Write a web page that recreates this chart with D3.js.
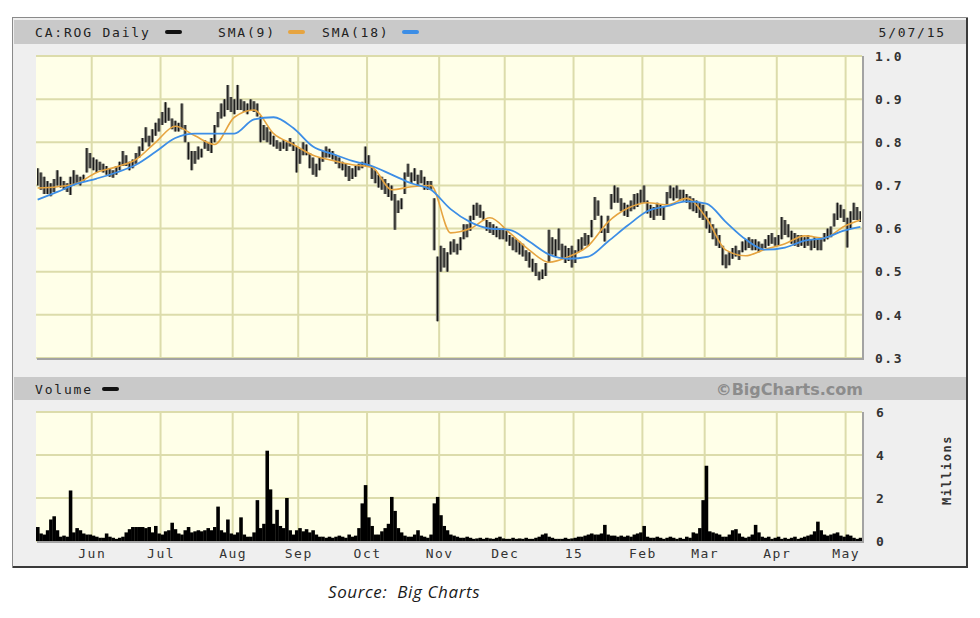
<!DOCTYPE html>
<html><head><meta charset="utf-8">
<script src="https://cdn.jsdelivr.net/npm/d3@7"></script>
<style>
body{margin:0;background:#fff;}
svg{display:block;}
</style></head><body>
<svg id="c" width="980" height="618"></svg>
<script>
// ---- DATA (daily, 7 May 2014 – 7 May 2015, trading-day index) ----
const priceHigh = [
0.74,0.73,0.72,0.71,0.705,0.715,0.735,0.72,0.71,0.705,
0.72,0.735,0.725,0.72,0.725,0.787,0.775,0.765,0.76,0.755,
0.75,0.745,0.74,0.735,0.745,0.755,0.78,0.77,0.755,0.76,
0.775,0.79,0.81,0.835,0.815,0.83,0.845,0.855,0.87,0.893,
0.88,0.855,0.85,0.845,0.89,0.84,0.80,0.78,0.78,0.79,
0.785,0.805,0.80,0.81,0.84,0.87,0.89,0.90,0.933,0.905,
0.90,0.933,0.90,0.895,0.89,0.90,0.895,0.89,0.86,0.84,
0.835,0.825,0.815,0.805,0.80,0.805,0.80,0.81,0.80,0.79,
0.785,0.80,0.795,0.775,0.765,0.75,0.765,0.78,0.79,0.785,
0.78,0.77,0.765,0.755,0.75,0.745,0.74,0.745,0.75,0.755,
0.79,0.77,0.745,0.735,0.725,0.72,0.715,0.705,0.70,0.68,
0.665,0.67,0.73,0.75,0.73,0.74,0.725,0.735,0.72,0.71,
0.71,0.67,0.535,0.56,0.555,0.545,0.57,0.575,0.565,0.58,
0.61,0.61,0.63,0.655,0.66,0.655,0.64,0.62,0.615,0.61,
0.605,0.60,0.60,0.595,0.585,0.58,0.575,0.57,0.565,0.55,
0.545,0.53,0.52,0.50,0.505,0.52,0.597,0.58,0.575,0.60,
0.565,0.56,0.555,0.56,0.55,0.575,0.58,0.59,0.585,0.62,
0.673,0.665,0.63,0.60,0.63,0.68,0.70,0.695,0.67,0.66,
0.655,0.665,0.68,0.682,0.69,0.70,0.665,0.655,0.65,0.66,
0.655,0.65,0.685,0.70,0.695,0.70,0.69,0.69,0.68,0.675,
0.67,0.665,0.66,0.655,0.64,0.625,0.61,0.60,0.585,0.56,
0.54,0.545,0.555,0.56,0.55,0.57,0.575,0.58,0.575,0.575,
0.57,0.565,0.575,0.585,0.59,0.58,0.585,0.627,0.62,0.61,
0.595,0.59,0.585,0.585,0.58,0.585,0.575,0.58,0.575,0.575,
0.59,0.60,0.605,0.635,0.66,0.655,0.645,0.625,0.64,0.66,
0.65,0.64];
const priceLow = [
0.70,0.69,0.68,0.68,0.675,0.685,0.70,0.695,0.69,0.685,
0.678,0.70,0.705,0.70,0.71,0.73,0.74,0.735,0.73,0.735,
0.73,0.725,0.72,0.718,0.725,0.735,0.745,0.745,0.735,0.74,
0.75,0.765,0.78,0.80,0.79,0.80,0.815,0.825,0.84,0.845,
0.85,0.83,0.825,0.825,0.83,0.80,0.76,0.735,0.75,0.76,
0.765,0.785,0.78,0.775,0.80,0.835,0.855,0.86,0.875,0.87,
0.865,0.875,0.875,0.87,0.865,0.875,0.87,0.86,0.80,0.805,
0.80,0.795,0.79,0.785,0.78,0.785,0.78,0.79,0.78,0.73,
0.75,0.77,0.77,0.74,0.725,0.72,0.735,0.755,0.765,0.765,
0.76,0.75,0.74,0.735,0.72,0.71,0.715,0.72,0.735,0.74,
0.745,0.745,0.715,0.705,0.695,0.69,0.68,0.673,0.665,0.597,
0.636,0.645,0.68,0.72,0.705,0.71,0.70,0.705,0.69,0.69,
0.69,0.55,0.385,0.50,0.51,0.50,0.54,0.545,0.54,0.55,
0.575,0.58,0.595,0.62,0.63,0.625,0.62,0.595,0.59,0.585,
0.58,0.575,0.575,0.57,0.56,0.55,0.545,0.54,0.535,0.525,
0.51,0.50,0.49,0.48,0.483,0.49,0.52,0.54,0.535,0.55,
0.53,0.52,0.525,0.51,0.52,0.545,0.55,0.56,0.56,0.58,
0.62,0.63,0.59,0.57,0.59,0.645,0.66,0.66,0.64,0.63,
0.627,0.64,0.645,0.65,0.66,0.66,0.635,0.625,0.62,0.63,
0.63,0.62,0.655,0.67,0.665,0.67,0.665,0.665,0.66,0.645,
0.64,0.636,0.625,0.62,0.60,0.59,0.575,0.56,0.555,0.515,
0.508,0.515,0.53,0.535,0.527,0.545,0.55,0.555,0.55,0.55,
0.545,0.55,0.555,0.56,0.565,0.56,0.56,0.575,0.585,0.58,
0.565,0.56,0.557,0.56,0.555,0.56,0.55,0.555,0.55,0.55,
0.57,0.575,0.58,0.605,0.62,0.625,0.615,0.556,0.60,0.62,
0.62,0.615];
const volumeMillions = [
0.65,0.35,0.3,0.5,1.0,1.15,0.5,0.2,0.25,0.2,
2.35,0.4,0.6,0.5,0.35,0.3,0.3,0.25,0.2,0.15,
0.15,0.35,0.2,0.15,0.1,0.15,0.2,0.4,0.55,0.65,
0.65,0.65,0.65,0.6,0.65,0.4,0.7,0.35,0.3,0.45,
0.5,0.85,0.55,0.35,0.3,0.5,0.65,0.4,0.45,0.5,
0.45,0.5,0.6,0.5,0.65,1.6,0.5,0.4,1.0,0.35,
0.3,0.4,1.1,0.3,0.2,0.2,0.4,1.9,0.6,0.8,
4.2,2.4,0.8,1.45,0.7,0.6,2.0,0.5,0.3,0.5,
0.6,0.45,0.55,0.4,0.5,0.3,0.2,0.2,0.15,0.2,
0.15,0.2,0.25,0.2,0.15,0.3,0.2,0.25,0.6,1.75,
2.6,1.1,0.7,0.3,0.3,0.45,0.6,0.8,2.05,1.4,
0.6,0.4,0.25,0.2,0.2,0.3,0.5,0.25,0.2,0.15,
0.3,1.75,2.05,1.2,0.7,0.5,0.3,0.25,0.2,0.15,
0.15,0.2,0.15,0.1,0.12,0.15,0.1,0.15,0.12,0.1,
0.15,0.2,0.12,0.1,0.1,0.15,0.1,0.12,0.1,0.15,
0.1,0.1,0.15,0.2,0.3,0.35,0.2,0.15,0.1,0.1,
0.1,0.15,0.1,0.12,0.15,0.2,0.2,0.25,0.3,0.35,
0.3,0.3,0.35,0.75,0.3,0.25,0.25,0.2,0.25,0.2,
0.25,0.2,0.3,0.35,0.4,0.7,0.2,0.15,0.15,0.2,
0.15,0.1,0.15,0.2,0.15,0.1,0.15,0.1,0.2,0.15,
0.4,0.35,0.6,1.9,3.5,0.45,0.4,0.35,0.3,0.2,
0.2,0.3,0.5,0.55,0.35,0.2,0.15,0.2,0.3,0.75,
0.4,0.2,0.15,0.2,0.1,0.15,0.2,0.1,0.15,0.1,
0.15,0.2,0.1,0.15,0.2,0.25,0.3,0.45,0.9,0.5,
0.3,0.25,0.3,0.35,0.4,0.25,0.2,0.3,0.25,0.15,
0.1,0.15];
const smaDays = [0,6,12,18,24,30,36,42,48,54,60,66,72,78,84,90,96,102,108,114,120,
  126,132,138,144,150,156,162,168,174,180,186,192,198,204,210,216,222,228,234,240,246,251];
const sma9 = [0.694,0.697,0.705,0.73,0.743,0.76,0.80,0.837,0.815,0.795,0.858,0.875,0.82,
  0.795,0.77,0.758,0.748,0.742,0.69,0.697,0.70,0.59,0.60,0.625,0.59,0.55,0.522,0.535,
  0.56,0.615,0.647,0.66,0.655,0.67,0.625,0.55,0.537,0.552,0.565,0.583,0.578,0.605,0.62];
const sma18 = [0.667,0.685,0.704,0.716,0.73,0.748,0.778,0.81,0.82,0.82,0.82,0.853,0.858,
  0.833,0.79,0.773,0.757,0.745,0.725,0.705,0.69,0.645,0.615,0.60,0.597,0.57,0.54,0.53,
  0.535,0.57,0.607,0.64,0.652,0.663,0.658,0.615,0.575,0.551,0.556,0.572,0.578,0.595,0.604];
const monthStartDays = [17,38,60,80,101,123,143,164,185,204,226,247];
const monthLabels = ["Jun","Jul","Aug","Sep","Oct","Nov","Dec","15","Feb","Mar","Apr","May"];
const priceTicks = [0.3,0.4,0.5,0.6,0.7,0.8,0.9,1.0];
const volumeTicks = [0,2,4,6];
const symbolLabel = "CA:ROG Daily";
const sma9Label = "SMA(9)";
const sma18Label = "SMA(18)";
const dateLabel = "5/07/15";
const volumeLabel = "Volume";
const creditLabel = "\u00A9BigCharts.com";
const unitLabel = "Millions";
const sourceLabel = "Source:  Big Charts";

// ---- DRAWING ----
const svg = d3.select("#c");
const N = priceHigh.length;
const mono = "'DejaVu Sans Mono', monospace";
const x = d3.scaleLinear().domain([0, N]).range([36, 862]);
const yP = d3.scaleLinear().domain([0.3, 1.0]).range([358, 56]);
const yV = d3.scaleLinear().domain([0, 6]).range([541, 412]);
const gridCol = "#dcdcab";

// outer frame
svg.append("rect").attr("x",12.5).attr("y",17.5).attr("width",955).attr("height",550)
  .attr("fill","#efefef").attr("stroke","#8a8a8a");
svg.append("path").attr("d","M967,18V567H13").attr("stroke","#3a3a3a").attr("stroke-width",2).attr("fill","none");
svg.append("rect").attr("x",14).attr("y",20).attr("width",952).attr("height",24).attr("fill","#c9c9c9");
svg.append("rect").attr("x",14).attr("y",377).attr("width",952).attr("height",23).attr("fill","#c9c9c9");

function panel(y0, y1, yScale, ticks){
  const g = svg.append("g");
  g.append("rect").attr("x",36).attr("y",y0).attr("width",826).attr("height",y1-y0).attr("fill","#ffffe8");
  g.append("g").selectAll("line").data(ticks).join("line")
    .attr("x1",36).attr("x2",862).attr("y1",d=>yScale(d)).attr("y2",d=>yScale(d))
    .attr("stroke",gridCol).attr("stroke-width",2);
  g.append("g").selectAll("line").data(monthStartDays).join("line")
    .attr("x1",d=>x(d)).attr("x2",d=>x(d)).attr("y1",y0).attr("y2",y1)
    .attr("stroke",gridCol).attr("stroke-width",2);
  return g;
}
panel(56, 358, yP, priceTicks);
panel(412, 541, yV, volumeTicks);

// price bars
const days = d3.range(N);
svg.append("path").datum(days)
  .attr("d", d3.area().x(i=>x(i+0.5)).y0(i=>yP(priceLow[i])).y1(i=>yP(priceHigh[i])).curve(d3.curveStep))
  .attr("fill","#8a8a80");
svg.append("g").selectAll("line").data(days).join("line")
  .attr("x1",i=>x(i+0.5)).attr("x2",i=>x(i+0.5))
  .attr("y1",i=>yP(priceHigh[i])).attr("y2",i=>Math.max(yP(priceLow[i]), yP(priceHigh[i])+2))
  .attr("stroke","#161616").attr("stroke-width",1.2);

// SMA lines
const smaLine = arr => d3.line().x((d,k)=>x(d+0.5)).y((d,k)=>yP(arr[k])).curve(d3.curveMonotoneX);
svg.append("path").datum(smaDays).attr("d", smaLine(sma9)).attr("fill","none")
  .attr("stroke","#e6a440").attr("stroke-width",1.6);
svg.append("path").datum(smaDays).attr("d", smaLine(sma18)).attr("fill","none")
  .attr("stroke","#3d8ee6").attr("stroke-width",1.8);

// volume bars
svg.append("g").selectAll("rect").data(days).join("rect")
  .attr("x",i=>x(i)).attr("width",x(1)-x(0)+0.3)
  .attr("y",i=>yV(volumeMillions[i])).attr("height",i=>yV(0)-yV(volumeMillions[i]))
  .attr("fill","#000");

// panel shadows
svg.append("path").attr("d","M37,359H863V56").attr("stroke","#a3a3a3").attr("stroke-width",2).attr("fill","none");
svg.append("path").attr("d","M37,542H863V412").attr("stroke","#a3a3a3").attr("stroke-width",2).attr("fill","none");

// axes
function styleAxis(g){
  g.attr("font-family", mono).attr("font-size", 13).attr("font-weight","bold").attr("color","#333");
  g.select(".domain").remove();
  g.selectAll("text").attr("letter-spacing", 1.5);
}
svg.append("g").attr("transform","translate(862,0)")
  .call(d3.axisRight(yP).tickValues(priceTicks).tickSize(0).tickPadding(13).tickFormat(d3.format(".1f")))
  .call(styleAxis);
svg.append("g").attr("transform","translate(862,0)")
  .call(d3.axisRight(yV).tickValues(volumeTicks).tickSize(0).tickPadding(14).tickFormat(d3.format("d")))
  .call(styleAxis);
const xa = svg.append("g").attr("transform","translate(0,541)")
  .call(d3.axisBottom(x).tickValues(monthStartDays).tickFormat((d,i)=>monthLabels[i]).tickSize(0).tickPadding(8))
  .call(styleAxis);
xa.attr("font-weight","normal");

// header texts
const hdr = (t, xx, yy, anchor) => svg.append("text").text(t).attr("x",xx).attr("y",yy)
  .attr("font-family",mono).attr("font-size",13).attr("letter-spacing",1.8)
  .attr("fill","#222").attr("text-anchor",anchor||"start");
hdr(symbolLabel, 35, 37);
hdr(sma9Label, 218, 37);
hdr(sma18Label, 322, 37);
hdr(dateLabel, 946, 37, "end");
hdr(volumeLabel, 35, 394);
const sw = (x1,x2,yy,c) => svg.append("line").attr("x1",x1).attr("x2",x2).attr("y1",yy).attr("y2",yy)
  .attr("stroke",c).attr("stroke-width",4).attr("stroke-linecap","round");
sw(167,180,32,"#111");
sw(290,303,32,"#e6a440");
sw(404,417,32,"#3d8ee6");
sw(104,117,389,"#111");

svg.append("text").text(creditLabel).attr("x",863).attr("y",395).attr("text-anchor","end")
  .attr("font-family","'DejaVu Sans', sans-serif").attr("font-weight","bold").attr("font-size",16)
  .attr("fill","#8c8c8c");
svg.append("text").text(unitLabel).attr("transform","translate(951,470) rotate(-90)")
  .attr("text-anchor","middle").attr("font-family",mono).attr("font-size",12).attr("font-weight","bold")
  .attr("letter-spacing",1.5).attr("fill","#333");

svg.append("text").text(sourceLabel).attr("x",328).attr("y",598)
  .attr("font-family","'Open Sans', sans-serif").attr("font-style","italic").attr("font-size",17)
  .attr("letter-spacing",0.6)
  .attr("fill","#1a1a1a").style("white-space","pre");
</script>
</body></html>
